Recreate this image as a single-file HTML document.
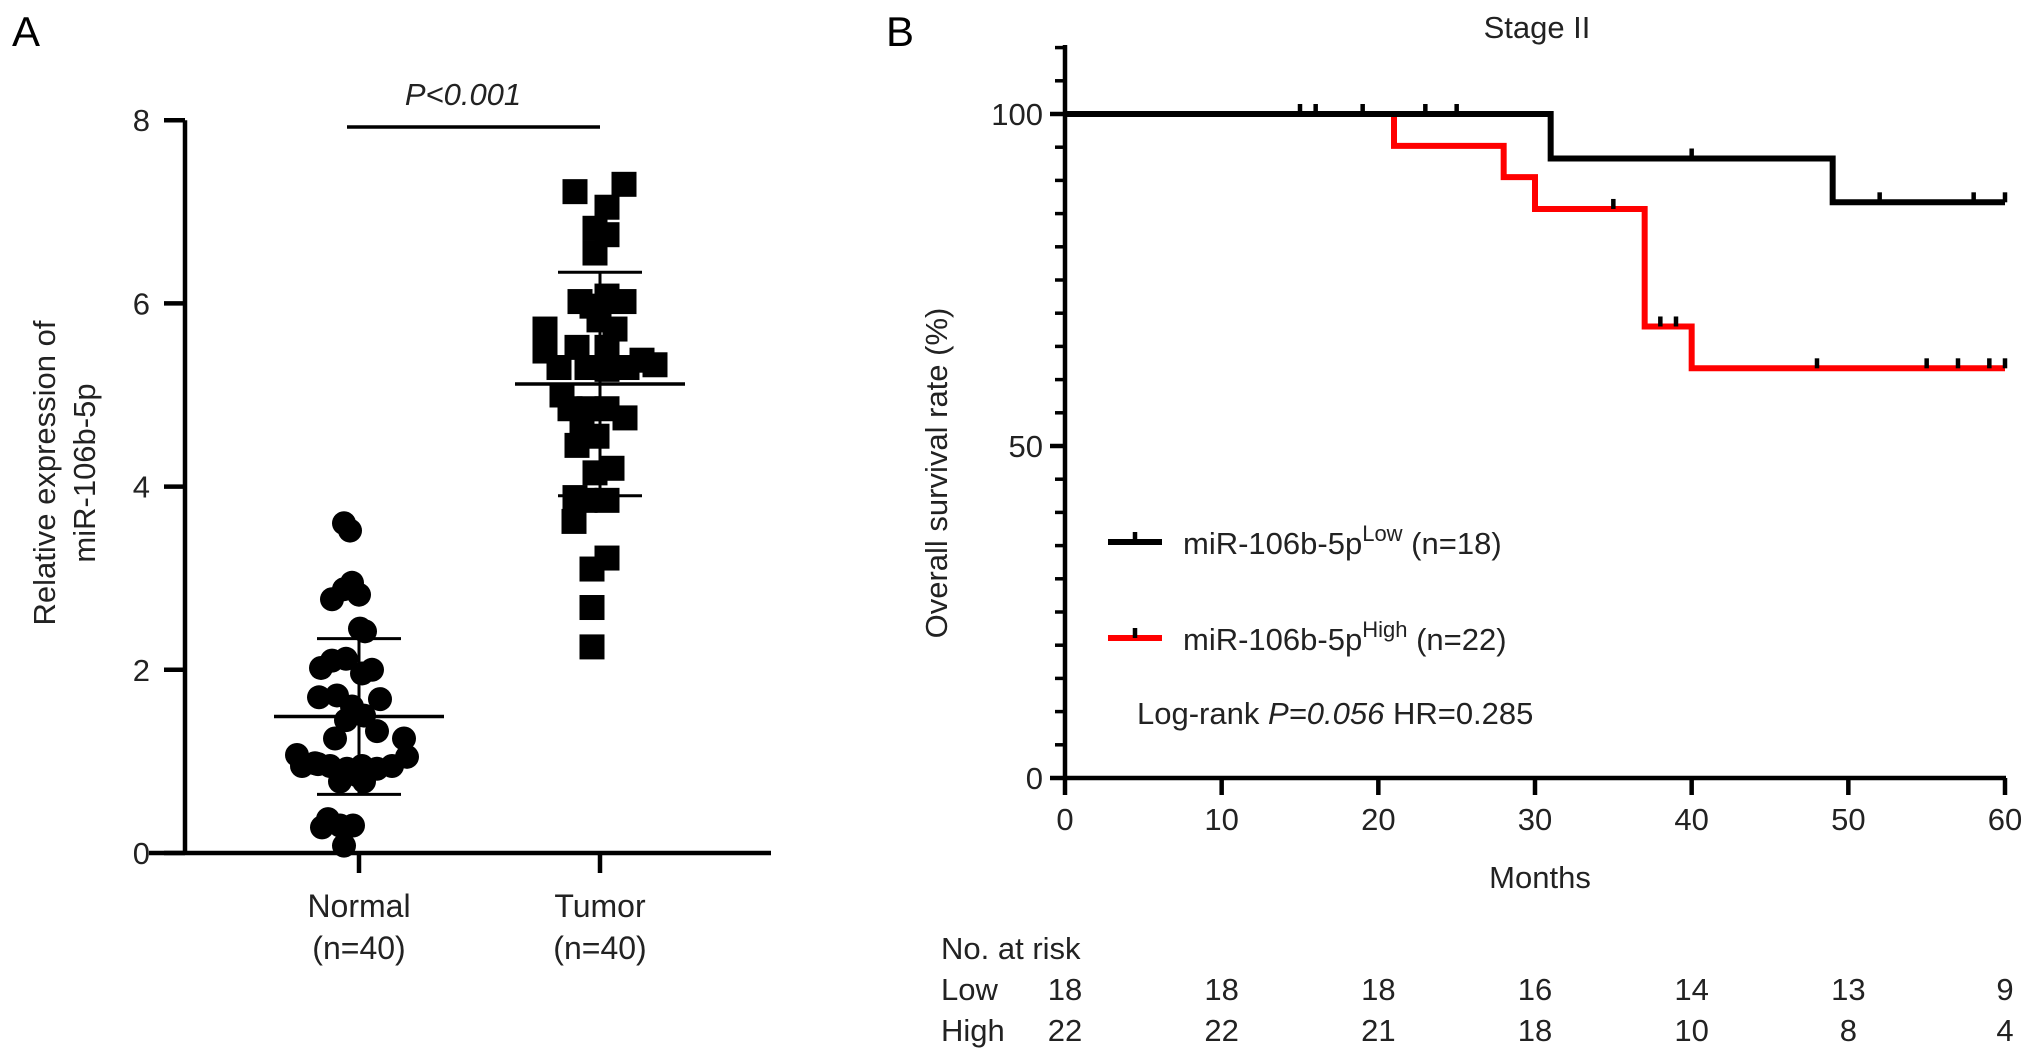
<!DOCTYPE html>
<html><head><meta charset="utf-8"><style>
html,body{margin:0;padding:0;background:#fff;}
svg{display:block;font-family:"Liberation Sans",Arial,sans-serif;}
</style></head><body>
<svg id="fig" width="2032" height="1060" viewBox="0 0 2032 1060" xmlns="http://www.w3.org/2000/svg">
<g id="pa"></g>
<g id="pb"></g>
</svg>
<script>
// Panel A data
const groupNames = ["Normal", "Tumor"];
const normalVals = [3.6,3.52,2.95,2.88,2.82,2.77,2.42,2.45,2.1,2.12,2.02,2.0,1.96,1.7,1.72,1.68,1.6,1.5,1.45,1.33,1.25,1.25,1.07,0.97,0.95,0.95,0.92,0.95,0.92,0.95,1.05,0.98,0.78,0.78,0.85,0.37,0.3,0.3,0.28,0.08];
const normalJit = [-15,-9,-7,-15,0,-27,6,1,-27,-13,-38,13,3,-40,-22,21,-7,5,-13,18,-24,45,-62,-41,-57,-29,-12,3,18,33,48,-44,-19,5,-2,-31,-19,-6,-37,-15];
const tumorVals = [7.22,7.3,7.05,6.82,6.75,6.55,6.02,6.08,6.02,5.97,5.82,5.72,5.72,5.52,5.48,5.52,5.3,5.3,5.3,5.38,5.33,5.28,4.85,4.85,4.85,4.75,4.7,4.55,4.45,4.2,4.15,3.88,3.85,3.85,3.62,3.22,3.1,2.68,2.25,5.0];
const tumorJit = [-25,24,7,-5,7,-5,-20,7,24,-8,-1,-55,15,7,-55,-23,-41,-13,27,42,55,7,-30,-11,7,25,-18,-3,-23,12,-5,-25,-15,7,-26,7,-8,-8,-8,-38];
const groupMean = [1.49, 5.12];
const groupSD = [0.85, 1.22];
const yTicksA = [0,2,4,6,8];
// Panel B data
const lowT = [0,31,49,60];
const lowS = [100,93.3,86.7,86.7];
const highT = [0,21,28,30,37,40,60];
const highS = [100,95.2,90.5,85.7,68,61.7,61.7];
const lowCensT = [15,16,19,23,25,40,52,58,60];
const highCensT = [35,38,39,48,55,57,59,60];
const xTicksB = [0,10,20,30,40,50,60];
const yTicksB = [0,50,100];
const riskLow = [18,18,18,16,14,13,9];
const riskHigh = [22,22,21,18,10,8,4];

const NS="http://www.w3.org/2000/svg";
const FS=31;
function mk(parent,tag,attrs,text){const e=document.createElementNS(NS,tag);for(const k in attrs)e.setAttribute(k,attrs[k]);if(text!==undefined)e.textContent=text;parent.appendChild(e);return e;}

// ---------- Panel A ----------
const pa=document.getElementById('pa');
const yA=v=>853-v*91.6;
const xA=[359,600];
let t=mk(pa,'text',{x:12,y:46,'font-size':42},'A');


let ax=mk(pa,'line',{x1:185,y1:yA(8),x2:185,y2:855,stroke:'#000','stroke-width':4.5});


ax=mk(pa,'line',{x1:149,y1:853,x2:771,y2:853,stroke:'#000','stroke-width':4.5});


yTicksA.forEach(v=>{
  mk(pa,'line',{x1:164,y1:yA(v),x2:185,y2:yA(v),stroke:'#000','stroke-width':4.5});
  const l=mk(pa,'text',{x:150,y:yA(v)+11,'font-size':FS,'text-anchor':'end',fill:'#222'},v);
  
  
});
xA.forEach((x,i)=>{
  mk(pa,'line',{x1:x,y1:853,x2:x,y2:873,stroke:'#000','stroke-width':4.5});
  const l=mk(pa,'text',{x:x,y:917,'font-size':32,'text-anchor':'middle',fill:'#222'},groupNames[i]);
  
  
  const n=mk(pa,'text',{x:x,y:959,'font-size':32,'text-anchor':'middle',fill:'#222'},'(n=40)');
  
  
});
t=mk(pa,'text',{transform:'translate(55,473) rotate(-90)','font-size':FS,'text-anchor':'middle',fill:'#222'},'Relative expression of');


t=mk(pa,'text',{transform:'translate(95,473) rotate(-90)','font-size':FS,'text-anchor':'middle',fill:'#222'},'miR-106b-5p');


t=mk(pa,'text',{x:463,y:105,'font-size':FS,'text-anchor':'middle','font-style':'italic',fill:'#222'},'P<0.001');


t=mk(pa,'line',{x1:347,y1:127,x2:600,y2:127,stroke:'#000','stroke-width':3.5});


normalVals.forEach((v,i)=>{
  const c=mk(pa,'circle',{cx:xA[0]+normalJit[i],cy:yA(v),r:12,fill:'#000'});
  
  
});
tumorVals.forEach((v,i)=>{
  const r=mk(pa,'rect',{x:xA[1]+tumorJit[i]-12.5,y:yA(v)-12.5,width:25,height:25,fill:'#000'});
  
  
});
xA.forEach((x,i)=>{
  const m=groupMean[i],s=groupSD[i];
  const g=mk(pa,'g',{stroke:'#000','stroke-width':3});
  
  
  mk(g,'line',{x1:x-85,y1:yA(m),x2:x+85,y2:yA(m),'stroke-width':3.5});
  mk(g,'line',{x1:x,y1:yA(m-s),x2:x,y2:yA(m+s)});
  mk(g,'line',{x1:x-42,y1:yA(m+s),x2:x+42,y2:yA(m+s)});
  mk(g,'line',{x1:x-42,y1:yA(m-s),x2:x+42,y2:yA(m-s)});
});

// ---------- Panel B ----------
const pb=document.getElementById('pb');
const xB=v=>1065+v*(940/60);
const yB=v=>778-v*6.64;
t=mk(pb,'text',{x:886,y:46,'font-size':42},'B');


t=mk(pb,'text',{x:1537,y:38,'font-size':FS,'text-anchor':'middle',fill:'#222'},'Stage II');


ax=mk(pb,'line',{x1:1065,y1:45,x2:1065,y2:780,stroke:'#000','stroke-width':4.5});


ax=mk(pb,'line',{x1:1063,y1:778,x2:2006,y2:778,stroke:'#000','stroke-width':4.5});


for(let v=0;v<=110;v+=5){mk(pb,'line',{x1:1055,y1:yB(v),x2:1065,y2:yB(v),stroke:'#000','stroke-width':3.5});}
yTicksB.forEach(v=>{
  mk(pb,'line',{x1:1050,y1:yB(v),x2:1065,y2:yB(v),stroke:'#000','stroke-width':4.5});
  const l=mk(pb,'text',{x:1043,y:yB(v)+11,'font-size':FS,'text-anchor':'end',fill:'#222'},v);
  
  
});
xTicksB.forEach((v,i)=>{
  mk(pb,'line',{x1:xB(v),y1:778,x2:xB(v),y2:795,stroke:'#000','stroke-width':4.5});
  const l=mk(pb,'text',{x:xB(v),y:830,'font-size':FS,'text-anchor':'middle',fill:'#222'},v);
  
  
  const a=mk(pb,'text',{x:xB(v),y:1000,'font-size':FS,'text-anchor':'middle',fill:'#222'},riskLow[i]);
  
  
  const b=mk(pb,'text',{x:xB(v),y:1041,'font-size':FS,'text-anchor':'middle',fill:'#222'},riskHigh[i]);
  
  
});
t=mk(pb,'text',{x:1540,y:888,'font-size':FS,'text-anchor':'middle',fill:'#222'},'Months');


t=mk(pb,'text',{transform:'translate(947,473) rotate(-90)','font-size':FS,'text-anchor':'middle',fill:'#222'},'Overall survival rate (%)');


t=mk(pb,'text',{x:941,y:959,'font-size':FS,fill:'#222'},'No. at risk');


t=mk(pb,'text',{x:941,y:1000,'font-size':FS,fill:'#222'},'Low');


t=mk(pb,'text',{x:941,y:1041,'font-size':FS,fill:'#222'},'High');



function stepPath(T,S){let d='M'+xB(T[0])+','+yB(S[0]);for(let i=1;i<T.length;i++){d+=' H'+xB(T[i])+' V'+yB(S[i]);}return d;}
function survAt(T,S,tt){let s=S[0];for(let i=0;i<T.length;i++){if(T[i]<=tt)s=S[i];}return s;}
let p=mk(pb,'path',{d:stepPath(highT,highS),fill:'none',stroke:'#ff0000','stroke-width':6});


p=mk(pb,'path',{d:stepPath(lowT,lowS),fill:'none',stroke:'#000','stroke-width':6});


lowCensT.forEach(c=>{
  const m=mk(pb,'line',{x1:xB(c),y1:yB(survAt(lowT,lowS,c))-10,x2:xB(c),y2:yB(survAt(lowT,lowS,c)),stroke:'#000','stroke-width':4.5});
  
  
});
highCensT.forEach(c=>{
  const m=mk(pb,'line',{x1:xB(c),y1:yB(survAt(highT,highS,c))-10,x2:xB(c),y2:yB(survAt(highT,highS,c)),stroke:'#000','stroke-width':4.5});
  
  
});
// legend
let lg=mk(pb,'g',{});


mk(lg,'line',{x1:1108,y1:542,x2:1162,y2:542,stroke:'#000','stroke-width':6});
mk(lg,'line',{x1:1135,y1:532,x2:1135,y2:542,stroke:'#000','stroke-width':4.5});
let tx=mk(lg,'text',{x:1183,y:554,'font-size':FS,fill:'#222'});
mk(tx,'tspan',{},'miR-106b-5p');mk(tx,'tspan',{'font-size':22,dy:-13},'Low');mk(tx,'tspan',{dy:13},' (n=18)');
lg=mk(pb,'g',{});


mk(lg,'line',{x1:1108,y1:638,x2:1162,y2:638,stroke:'#ff0000','stroke-width':6});
mk(lg,'line',{x1:1135,y1:628,x2:1135,y2:638,stroke:'#000','stroke-width':4.5});
tx=mk(lg,'text',{x:1183,y:650,'font-size':FS,fill:'#222'});
mk(tx,'tspan',{},'miR-106b-5p');mk(tx,'tspan',{'font-size':22,dy:-13},'High');mk(tx,'tspan',{dy:13},' (n=22)');
tx=mk(pb,'text',{x:1137,y:724,'font-size':FS,fill:'#222'});


mk(tx,'tspan',{},'Log-rank ');mk(tx,'tspan',{'font-style':'italic'},'P=0.056');mk(tx,'tspan',{},'  HR=0.285');
</script>
</body></html>
